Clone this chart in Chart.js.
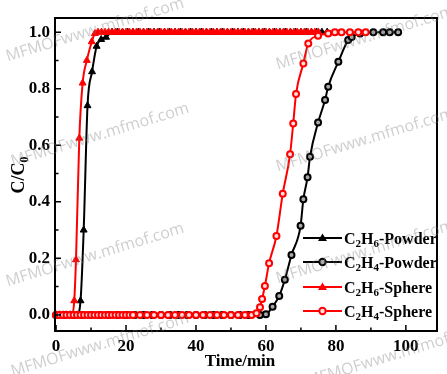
<!DOCTYPE html>
<html><head><meta charset="utf-8">
<script src="https://cdn.jsdelivr.net/npm/chart.js@4.4.0/dist/chart.umd.min.js"></script>
<style>html,body{margin:0;padding:0;background:#fff;}#wrap{width:447px;height:374px;}</style>
</head><body><div id="wrap"><canvas id="c" width="447" height="374"></canvas></div>
<script>
// ---- data ----
const xTicks = [0, 20, 40, 60, 80, 100];
const yTicks = [0, 0.2, 0.4, 0.6, 0.8, 1.0];
const xMinorTicks = [10, 30, 50, 70, 90];
const yMinorTicks = [0.1, 0.3, 0.5, 0.7, 0.9];

const c2h6PowderT = [0,1,2,3,4,5,6,7,7.9,9.0,10.3,11.6,12.9,14.3,16,17.5,19,20.5,22,23.5,25,26.5,28,29.5,31,32.5,34,35.5,37,38.5,40,41.5,43,44.5,46,47.5,49,50.5,52,53.5,55,56.5,58,59.5,61,62.5,64,65.5,67,68.5,70,71.5,73,74.5,76,77.5];
const c2h6PowderV = [0,0,0,0,0,0,0,0.05,0.30,0.74,0.86,0.95,0.974,0.982,1,1,1,1,1,1,1,1,1,1,1,1,1,1,1,1,1,1,1,1,1,1,1,1,1,1,1,1,1,1,1,1,1,1,1,1,1,1,1,1,1,1];

const c2h4PowderT = [0,2.5,5,7.5,10,12.5,15,17.5,20,22.5,25,27.5,30,32.5,35,37.5,40,42.5,45,47.5,50,52.5,55,58.3,60,61.9,63.8,65.4,67.3,69.9,70.7,71.9,72.6,74.9,76.9,77.8,80.7,83.5,84.5,86.9,90.7,93.5,95.4,97.8];
const c2h4PowderV = [0,0,0,0,0,0,0,0,0,0,0,0,0,0,0,0,0,0,0,0,0,0,0,0,0.002,0.029,0.067,0.124,0.212,0.315,0.409,0.487,0.559,0.68,0.76,0.807,0.895,0.972,0.983,0.995,1,1,1,1];

const c2h6SphereT = [0,1,2,3,4,4.6,5.2,5.7,6.65,7.6,8.8,10.2,11.1,12,13,14,15,16,17,18,19,20,21,22,23,24,25,26,27,28,29,30,31,32,33,34,35,36,37,38,39,40,41,42,43,44,45,46,47,48,49,50,51,52,53,54,55,56,57,58,59,60,61,62,63,64,65,66,67,68,69,70,71,72,73,74,75];
const c2h6SphereV = [0,0,0,0,0,0,0.05,0.195,0.625,0.82,0.90,0.966,0.995,1,1,1,1,1,1,1,1,1,1,1,1,1,1,1,1,1,1,1,1,1,1,1,1,1,1,1,1,1,1,1,1,1,1,1,1,1,1,1,1,1,1,1,1,1,1,1,1,1,1,1,1,1,1,1,1,1,1,1,1,1,1,1,1];

const c2h4SphereT = [0,1,2,3,4,5,6,7,8,9,10,11,12,13,14,15,16,17,18,19,20,21,22,24,26,28,30,32,34,36,38,40,42,44,46,48,50,52,54,55.9,57.3,58.3,58.9,59.7,60.9,63.0,64.8,66.9,67.8,68.6,70.7,72.1,74.9,77.8,79.7,81.6,84,86.4,88.5];
const c2h4SphereV = [0,0,0,0,0,0,0,0,0,0,0,0,0,0,0,0,0,0,0,0,0,0,0,0,0,0,0,0,0,0,0,0,0,0,0,0,0,0,0,0,0.006,0.027,0.056,0.102,0.183,0.279,0.428,0.568,0.677,0.781,0.889,0.96,0.987,0.995,1,1,1,1,1];

const legendNames = [
  ['C', '2', 'H', '6', '-Powder'],
  ['C', '2', 'H', '4', '-Powder'],
  ['C', '2', 'H', '6', '-Sphere'],
  ['C', '2', 'H', '4', '-Sphere']
];
const watermarkText = 'MFMOFwww.mfmof.com';

// ---- build ----
const pts = (t, v) => t.map((x, i) => ({x: x, y: v[i]}));
const RED = '#ff0000', BLACK = '#000000';
const SERIF = '"Liberation Serif", "Times New Roman", serif';

const datasets = [
  {label: 'C2H4-Sphere', data: pts(c2h4SphereT, c2h4SphereV), borderColor: RED, backgroundColor: '#ffffff',
   pointStyle: 'circle', pointRadius: 3, pointBorderWidth: 2, pointBorderColor: RED, pointBackgroundColor: '#ffdede', borderWidth: 2, order: 0},
  {label: 'C2H6-Sphere', data: pts(c2h6SphereT, c2h6SphereV), borderColor: RED, backgroundColor: RED,
   pointStyle: 'triangle', pointRadius: 4, pointBorderWidth: 1, pointBorderColor: RED, pointBackgroundColor: RED, borderWidth: 2, order: 1},
  {label: 'C2H4-Powder', data: pts(c2h4PowderT, c2h4PowderV), borderColor: BLACK, backgroundColor: '#fff',
   pointStyle: 'circle', pointRadius: 3, pointBorderWidth: 2, pointBorderColor: BLACK, pointBackgroundColor: '#aaaaaa', borderWidth: 2, order: 2},
  {label: 'C2H6-Powder', data: pts(c2h6PowderT, c2h6PowderV), borderColor: BLACK, backgroundColor: BLACK,
   pointStyle: 'triangle', pointRadius: 4, pointBorderWidth: 1, pointBorderColor: BLACK, pointBackgroundColor: BLACK, borderWidth: 2, order: 3}
];
datasets.forEach(d => { d.cubicInterpolationMode = 'monotone'; d.clip = false; d.fill = false; });

const decor = {
  id: 'decor',
  afterDraw(chart) {
    const ctx = chart.ctx, a = chart.chartArea;
    const xs = chart.scales.x, ys = chart.scales.y;
    ctx.save();
    // frame
    ctx.strokeStyle = '#000'; ctx.lineWidth = 2;
    ctx.strokeRect(a.left, a.top, a.right - a.left, a.bottom - a.top);
    // inward ticks
    ctx.lineWidth = 1.5;
    ctx.beginPath();
    xTicks.forEach(v => { const p = xs.getPixelForValue(v); ctx.moveTo(p, a.bottom); ctx.lineTo(p, a.bottom - 6); });
    xMinorTicks.forEach(v => { const p = xs.getPixelForValue(v); ctx.moveTo(p, a.bottom); ctx.lineTo(p, a.bottom - 3.5); });
    yTicks.forEach(v => { const p = ys.getPixelForValue(v); ctx.moveTo(a.left, p); ctx.lineTo(a.left + 6, p); });
    yMinorTicks.forEach(v => { const p = ys.getPixelForValue(v); ctx.moveTo(a.left, p); ctx.lineTo(a.left + 3.5, p); });
    ctx.stroke();

    // x title
    ctx.fillStyle = '#000';
    ctx.font = 'bold 17px ' + SERIF;
    ctx.textAlign = 'center'; ctx.textBaseline = 'middle';
    ctx.fillText('Time/min', 240, 362);

    // y title C/C0 rotated
    ctx.save();
    ctx.translate(18, 175);
    ctx.rotate(-Math.PI / 2);
    ctx.textAlign = 'left'; ctx.textBaseline = 'alphabetic';
    ctx.font = 'bold 18px ' + SERIF;
    const mainW = ctx.measureText('C/C').width;
    ctx.font = 'bold 12px ' + SERIF;
    const subW = ctx.measureText('0').width;
    const startX = -(mainW + subW) / 2;
    ctx.font = 'bold 18px ' + SERIF;
    ctx.fillText('C/C', startX, 6);
    ctx.font = 'bold 12px ' + SERIF;
    ctx.fillText('0', startX + mainW, 10);
    ctx.restore();

    // legend
    const rowsY = [238, 262, 287, 311];
    const styles = [
      {c: BLACK, s: 'tri'}, {c: BLACK, s: 'cir', f: '#aaaaaa'}, {c: RED, s: 'tri'}, {c: RED, s: 'cir', f: '#ffdede'}
    ];
    rowsY.forEach((y, i) => {
      const st = styles[i];
      ctx.strokeStyle = st.c; ctx.lineWidth = 2;
      ctx.beginPath(); ctx.moveTo(303, y); ctx.lineTo(342, y); ctx.stroke();
      const cx = 322.5;
      if (st.s === 'tri') {
        ctx.fillStyle = st.c;
        ctx.beginPath(); ctx.moveTo(cx, y - 4.5); ctx.lineTo(cx + 4.5, y + 3); ctx.lineTo(cx - 4.5, y + 3); ctx.closePath(); ctx.fill();
      } else {
        ctx.fillStyle = st.f; ctx.lineWidth = 2;
        ctx.beginPath(); ctx.arc(cx, y, 3.2, 0, Math.PI * 2); ctx.fill(); ctx.stroke();
      }
      // text with subscripts
      let x = 344;
      ctx.fillStyle = '#000'; ctx.textAlign = 'left'; ctx.textBaseline = 'alphabetic';
      legendNames[i].forEach((part, k) => {
        const isSub = (k === 1 || k === 3);
        ctx.font = 'bold ' + (isSub ? 11 : 16) + 'px ' + SERIF;
        ctx.fillText(part, x, y + (isSub ? 9 : 5.5));
        x += ctx.measureText(part).width;
      });
    });

    // watermarks
    const marks = [[95, 30], [100, 135], [95, 255], [100, 345], [365, 38], [365, 140], [365, 252], [395, 355]];
    ctx.fillStyle = 'rgba(120,120,120,0.36)';
    ctx.font = '16px "Open Sans", "DejaVu Sans", sans-serif';
    ctx.textAlign = 'center'; ctx.textBaseline = 'middle';
    marks.forEach(m => {
      ctx.save(); ctx.translate(m[0], m[1]); ctx.rotate(-17 * Math.PI / 180);
      ctx.fillText(watermarkText, 0, 0); ctx.restore();
    });
    ctx.restore();
  }
};

new Chart(document.getElementById('c'), {
  type: 'line',
  data: {datasets: datasets},
  options: {
    responsive: false, animation: false, devicePixelRatio: 1,
    layout: {padding: {top: 18, right: 10, left: 0, bottom: 0}},
    plugins: {legend: {display: false}, tooltip: {enabled: false}, title: {display: false}},
    scales: {
      x: {
        type: 'linear', min: -0.3, max: 108.9,
        grid: {display: false, drawTicks: false}, border: {display: false},
        afterBuildTicks: s => { s.ticks = xTicks.map(v => ({value: v})); },
        afterFit: s => { s.height = 43; },
        ticks: {color: '#000', padding: 5, maxRotation: 0, autoSkip: false,
                font: {family: SERIF, weight: 'bold', size: 17}, callback: v => String(v)}
      },
      y: {
        type: 'linear', min: -0.057, max: 1.05,
        grid: {display: false, drawTicks: false}, border: {display: false},
        afterBuildTicks: s => { s.ticks = yTicks.map(v => ({value: v})); },
        afterFit: s => { s.width = 55; },
        ticks: {color: '#000', padding: 5, autoSkip: false,
                font: {family: SERIF, weight: 'bold', size: 17}, callback: v => v.toFixed(1)}
      }
    }
  },
  plugins: [decor]
});
</script>
</body></html>
